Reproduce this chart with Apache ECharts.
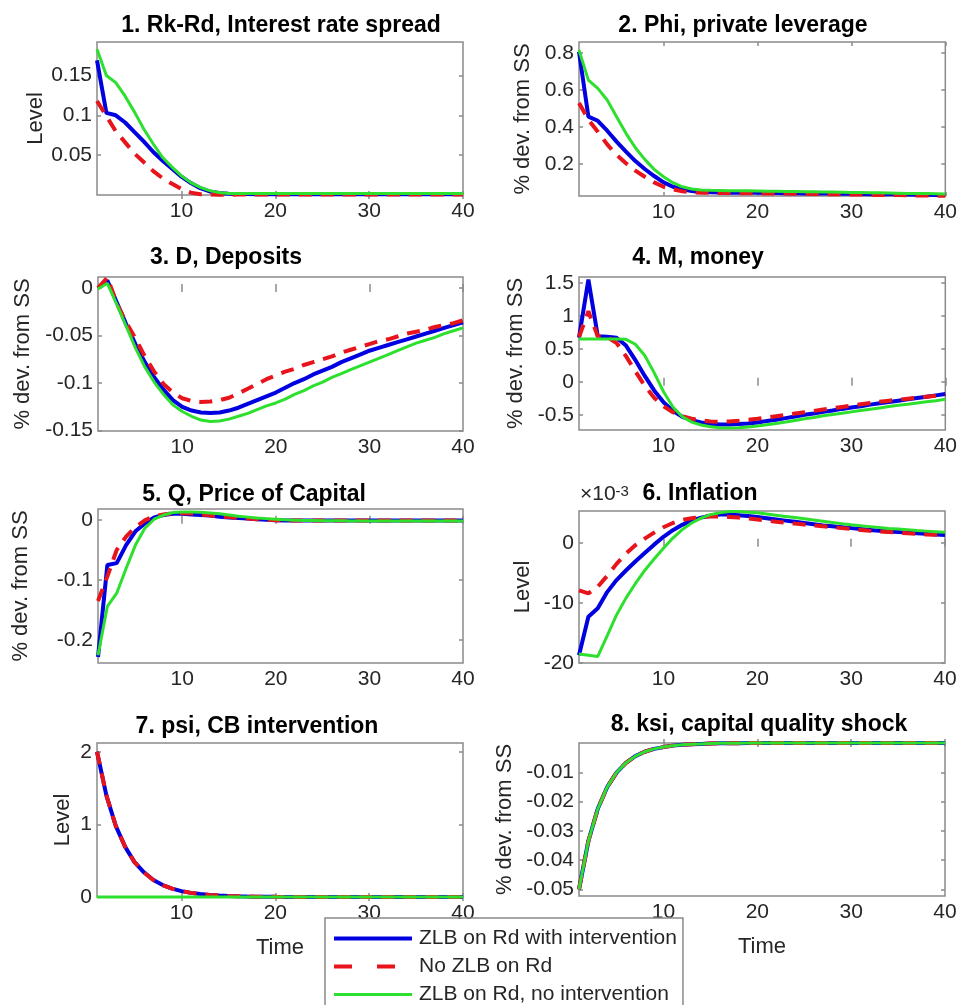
<!DOCTYPE html>
<html><head><meta charset="utf-8">
<script src="https://cdn.jsdelivr.net/npm/echarts@6/dist/echarts.min.js"></script>
<style>html,body{margin:0;padding:0;background:#fff}#c{width:960px;height:1005px}</style>
</head><body><div id="c"></div>
<script>
// ---------------- data ----------------
const time = [1,2,3,4,5,6,7,8,9,10,11,12,13,14,15,16,17,18,19,20,21,22,23,24,25,26,27,28,29,30,31,32,33,34,35,36,37,38,39,40];
const seriesNames = ['ZLB on Rd with intervention', 'No ZLB on Rd', 'ZLB on Rd, no intervention'];
const xTicks = [10, 20, 30, 40];

// 1. Rk-Rd
const spreadBlue = [0.169,0.103,0.100,0.091,0.079,0.067,0.054,0.043,0.033,0.023, 0.015,0.0085,0.0045,0.0025,0.0015,0.0012,0.0011,0.001,0.001,0.001, 0.001,0.001,0.001,0.001,0.001,0.001,0.001,0.001,0.001,0.001, 0.001,0.001,0.001,0.001,0.001,0.001,0.001,0.001,0.001,0.001];
const spreadRed = [0.118,0.099,0.080,0.066,0.052,0.041,0.030,0.021,0.014,0.0075, 0.003,0.001,0.0005,0.0003,0.0003,0.0005,0.0005,0.0005,0.0005,0.0005, 0.0005,0.0005,0.0005,0.0005,0.0005,0.0005,0.0005,0.0005,0.0005,0.0005, 0.0005,0.0005,0.0005,0.0005,0.0005,0.0005,0.0005,0.0005,0.0005,0.0005];
const spreadGreen = [0.183,0.150,0.141,0.124,0.104,0.0825,0.064,0.047,0.035,0.024, 0.0155,0.0095,0.0055,0.003,0.002,0.0018,0.0018,0.0018,0.0018,0.0018, 0.0018,0.0018,0.0018,0.0018,0.0018,0.0018,0.0018,0.0018,0.0018,0.0018, 0.0018,0.0018,0.0018,0.0018,0.0018,0.0018,0.0018,0.0018,0.0018,0.0018];
const spreadTicks = [0.05, 0.1, 0.15];

// 2. Phi
const phiBlue = [0.807,0.456,0.434,0.380,0.321,0.267,0.216,0.173,0.135,0.101, 0.077,0.063,0.054,0.049,0.047,0.046,0.045,0.045,0.044,0.044, 0.043,0.043,0.042,0.042,0.041,0.041,0.040,0.040,0.039,0.039, 0.038,0.037,0.037,0.036,0.036,0.035,0.034,0.034,0.033,0.032];
const phiRed = [0.530,0.440,0.375,0.306,0.249,0.204,0.164,0.131,0.101,0.077, 0.063,0.052,0.047,0.045,0.044,0.043,0.043,0.042,0.042,0.041, 0.041,0.040,0.040,0.039,0.039,0.038,0.037,0.037,0.036,0.035, 0.035,0.034,0.033,0.033,0.032,0.031,0.030,0.030,0.029,0.028];
const phiGreen = [0.816,0.654,0.609,0.546,0.456,0.366,0.288,0.225,0.171,0.131, 0.099,0.077,0.065,0.060,0.058,0.057,0.056,0.055,0.055,0.054, 0.053,0.053,0.052,0.051,0.050,0.050,0.049,0.048,0.047,0.046, 0.046,0.045,0.044,0.043,0.042,0.041,0.040,0.040,0.039,0.038];
const phiTicks = [0.2, 0.4, 0.6, 0.8];

// 3. Deposits
const depBlue = [0.000,0.008,-0.015,-0.038,-0.059,-0.078,-0.094,-0.107,-0.118,-0.125, -0.129,-0.131,-0.1315,-0.131,-0.129,-0.126,-0.122,-0.118,-0.114,-0.110, -0.105,-0.100,-0.096,-0.091,-0.087,-0.083,-0.078,-0.074,-0.070,-0.066, -0.063,-0.060,-0.057,-0.054,-0.051,-0.048,-0.045,-0.042,-0.039,-0.036];
const depRed = [0.000,0.011,-0.016,-0.036,-0.053,-0.072,-0.088,-0.101,-0.110,-0.116, -0.119,-0.120,-0.1195,-0.118,-0.1155,-0.111,-0.106,-0.101,-0.096,-0.092, -0.088,-0.085,-0.081,-0.078,-0.075,-0.072,-0.068,-0.065,-0.062,-0.059, -0.056,-0.054,-0.051,-0.048,-0.046,-0.044,-0.041,-0.039,-0.037,-0.034];
const depGreen = [-0.001,0.005,-0.017,-0.040,-0.063,-0.083,-0.099,-0.112,-0.123,-0.130, -0.135,-0.139,-0.1405,-0.140,-0.138,-0.135,-0.132,-0.128,-0.124,-0.121, -0.117,-0.112,-0.108,-0.103,-0.099,-0.094,-0.090,-0.086,-0.082,-0.078, -0.074,-0.070,-0.066,-0.062,-0.058,-0.055,-0.052,-0.048,-0.045,-0.042];
const depTicks = [-0.15, -0.1, -0.05, 0];

// 4. Money
const moneyBlue = [0.67,1.55,0.69,0.685,0.67,0.55,0.33,0.09,-0.13,-0.31, -0.44,-0.53,-0.58,-0.615,-0.635,-0.645,-0.645,-0.64,-0.63,-0.615, -0.595,-0.575,-0.55,-0.525,-0.50,-0.48,-0.455,-0.435,-0.41,-0.39, -0.37,-0.345,-0.325,-0.305,-0.285,-0.265,-0.245,-0.225,-0.205,-0.185];
const moneyRed = [0.68,1.07,0.69,0.68,0.59,0.39,0.16,-0.06,-0.24,-0.37, -0.46,-0.52,-0.56,-0.585,-0.60,-0.605,-0.60,-0.59,-0.575,-0.56, -0.54,-0.52,-0.50,-0.48,-0.46,-0.44,-0.42,-0.40,-0.38,-0.36, -0.34,-0.32,-0.30,-0.285,-0.27,-0.255,-0.24,-0.225,-0.21,-0.195];
const moneyGreen = [0.65,0.65,0.65,0.65,0.65,0.645,0.57,0.40,0.14,-0.15, -0.38,-0.53,-0.61,-0.655,-0.68,-0.695,-0.70,-0.695,-0.685,-0.67, -0.65,-0.63,-0.61,-0.585,-0.56,-0.54,-0.515,-0.495,-0.475,-0.455, -0.435,-0.415,-0.395,-0.375,-0.355,-0.34,-0.32,-0.30,-0.285,-0.265];
const moneyTicks = [-0.5, 0, 0.5, 1, 1.5];

// 5. Q
const qBlue = [-0.228,-0.075,-0.072,-0.042,-0.019,-0.006,0.004,0.008,0.010,0.010, 0.009,0.008,0.007,0.005,0.004,0.003,0.002,0.001,0.000,-0.0005, -0.001,-0.001,-0.001,-0.001,-0.001,-0.001,-0.001,-0.001,-0.001,-0.001, -0.001,-0.001,-0.001,-0.001,-0.001,-0.001,-0.001,-0.001,-0.001,-0.001];
const qRed = [-0.135,-0.094,-0.050,-0.028,-0.012,-0.001,0.006,0.009,0.011,0.011, 0.0105,0.009,0.007,0.0055,0.0045,0.003,0.002,0.001,0.000,-0.0005, -0.001,-0.001,-0.001,-0.001,-0.001,-0.001,-0.001,-0.001,-0.001,-0.001, -0.001,-0.001,-0.001,-0.001,-0.001,-0.001,-0.001,-0.001,-0.001,-0.001];
const qGreen = [-0.225,-0.144,-0.122,-0.081,-0.042,-0.014,0.001,0.008,0.012,0.013, 0.013,0.0125,0.0115,0.010,0.008,0.006,0.0045,0.003,0.002,0.001, 0.000,-0.0005,-0.001,-0.001,-0.0015,-0.0015,-0.0015,-0.002,-0.002,-0.002, -0.002,-0.002,-0.002,-0.002,-0.002,-0.002,-0.002,-0.002,-0.002,-0.002];
const qTicks = [-0.2, -0.1, 0];

// 6. Inflation (values in units of 10^-3)
const inflBlue = [-18.7,-12.3,-10.9,-8.2,-6.2,-4.6,-3.1,-1.7,-0.3,1.0, 2.1,3.0,3.7,4.2,4.5,4.7,4.7,4.6,4.45,4.3, 4.1,3.9,3.7,3.5,3.3,3.1,2.9,2.75,2.6,2.45, 2.3,2.15,2.0,1.9,1.8,1.7,1.6,1.5,1.4,1.3];
const inflRed = [-7.9,-8.4,-7.3,-5.5,-3.5,-1.8,-0.4,0.7,1.7,2.6, 3.3,3.8,4.1,4.3,4.4,4.4,4.3,4.2,4.05,3.9, 3.7,3.5,3.35,3.2,3.05,2.9,2.75,2.6,2.45,2.3, 2.15,2.0,1.9,1.8,1.7,1.6,1.5,1.4,1.35,1.3];
const inflGreen = [-18.5,-18.7,-18.9,-15.5,-12.0,-9.2,-6.8,-4.6,-2.7,-0.9, 0.8,2.2,3.3,4.1,4.7,5.0,5.2,5.2,5.1,5.0, 4.8,4.6,4.4,4.2,4.0,3.8,3.6,3.4,3.2,3.0, 2.85,2.7,2.55,2.4,2.3,2.2,2.05,1.95,1.85,1.75];
const inflTicks = [-20, -10, 0];

// 7. psi
const psiBlue = [2.0,1.40,0.98,0.69,0.48,0.34,0.235,0.165,0.115,0.081, 0.057,0.040,0.028,0.019,0.014,0.0095,0.0067,0.0047,0.0033,0.0023, 0.0016,0.0011,0.0008,0.0005,0.0004,0.0003,0.0002,0.0001,0.0001,0.0001, 0,0,0,0,0,0,0,0,0,0];
const psiRed = [2.0,1.40,0.98,0.69,0.48,0.34,0.235,0.165,0.115,0.081, 0.057,0.040,0.028,0.019,0.014,0.0095,0.0067,0.0047,0.0033,0.0023, 0.0016,0.0011,0.0008,0.0005,0.0004,0.0003,0.0002,0.0001,0.0001,0.0001, 0,0,0,0,0,0,0,0,0,0];
const psiGreen = [0,0,0,0,0,0,0,0,0,0, 0,0,0,0,0,0,0,0,0,0, 0,0,0,0,0,0,0,0,0,0, 0,0,0,0,0,0,0,0,0,0];
const psiTicks = [0, 1, 2];

// 8. ksi
const ksiBlue = [-0.0500,-0.0335,-0.0225,-0.0151,-0.0101,-0.0068,-0.0045,-0.0030,-0.0020,-0.0014, -0.0009,-0.0006,-0.0004,-0.0003,-0.0002,-0.0001,-0.0001,-0.0001,0,0, 0,0,0,0,0,0,0,0,0,0, 0,0,0,0,0,0,0,0,0,0];
const ksiRed = [-0.0500,-0.0335,-0.0225,-0.0151,-0.0101,-0.0068,-0.0045,-0.0030,-0.0020,-0.0014, -0.0009,-0.0006,-0.0004,-0.0003,-0.0002,-0.0001,-0.0001,-0.0001,0,0, 0,0,0,0,0,0,0,0,0,0, 0,0,0,0,0,0,0,0,0,0];
const ksiGreen = [-0.0500,-0.0335,-0.0225,-0.0151,-0.0101,-0.0068,-0.0045,-0.0030,-0.0020,-0.0014, -0.0009,-0.0006,-0.0004,-0.0003,-0.0002,-0.0001,-0.0001,-0.0001,0,0, 0,0,0,0,0,0,0,0,0,0, 0,0,0,0,0,0,0,0,0,0];
const ksiTicks = [-0.05, -0.04, -0.03, -0.02, -0.01];

// ---------------- layout / style ----------------
const FONT = 'Liberation Sans, Arial, Helvetica, sans-serif';
const COLORS = ['#0000e0', '#e8141c', '#2de02d'];
const BOX = '#8a8a8a';
const TXT = '#262626';

const panels = [
  {title:'1. Rk-Rd, Interest rate spread', tx:281, ty:26, grid:[97,42,366,153], y:[0,0.192], ticks:spreadTicks, yname:'Level', gap:50, data:[spreadBlue,spreadRed,spreadGreen]},
  {title:'2. Phi, private leverage', tx:743, ty:26, grid:[579,42,367,154], y:[0.027,0.86], ticks:phiTicks, yname:'% dev. from SS', gap:45, data:[phiBlue,phiRed,phiGreen]},
  {title:'3. D, Deposits', tx:226, ty:258, grid:[98,277,365,154], y:[-0.1505,0.0116], ticks:depTicks, yname:'% dev. from SS', gap:64, data:[depBlue,depRed,depGreen]},
  {title:'4. M, money', tx:698, ty:258, grid:[579,277,367,153], y:[-0.73,1.59], ticks:moneyTicks, yname:'% dev. from SS', gap:52, data:[moneyBlue,moneyRed,moneyGreen]},
  {title:'5. Q, Price of Capital', tx:254, ty:495, grid:[98,509,365,154], y:[-0.238,0.018], ticks:qTicks, yname:'% dev. from SS', gap:66, data:[qBlue,qRed,qGreen]},
  {title:'6. Inflation', tx:700, ty:494, grid:[579,511,366,152], y:[-20,5.3], ticks:inflTicks, yname:'Level', gap:45, data:[inflBlue,inflRed,inflGreen]},
  {title:'7. psi, CB intervention', tx:257, ty:727, grid:[97,743,366,154], y:[0,2.12], ticks:psiTicks, yname:'Level', gap:23, data:[psiBlue,psiRed,psiGreen], time:true},
  {title:'8. ksi, capital quality shock', tx:759, ty:725, grid:[579,743,366,153], y:[-0.0523,0], ticks:ksiTicks, yname:'% dev. from SS', gap:63, data:[ksiBlue,ksiRed,ksiGreen], time:true}
];

const option = {
  backgroundColor: '#ffffff',
  animation: false,
  textStyle: {fontFamily: FONT},
  title: [], grid: [], xAxis: [], yAxis: [], series: [],
  legend: {
    orient: 'vertical', left: 325, top: 918, height: 140,
    padding: [10, 6, 8, 7],
    itemWidth: 78, itemHeight: 14, itemGap: 7,
    borderColor: BOX, borderWidth: 1.5,
    backgroundColor: 'rgba(255,255,255,0)',
    itemStyle: {opacity: 0},
    textStyle: {fontFamily: FONT, fontSize: 21, color: TXT, padding: [0,0,0,2]},
    data: [
      {name: seriesNames[0], lineStyle: {width: 4}},
      {name: seriesNames[1], lineStyle: {width: 4, type: [18, 25]}},
      {name: seriesNames[2], lineStyle: {width: 3}}
    ]
  }
};

panels.forEach((p, i) => {
  option.title.push({
    text: p.title, left: p.tx, top: p.ty - 12, textAlign: 'center', padding: 0,
    textStyle: {fontFamily: FONT, fontSize: 23, fontWeight: 'bold', color: '#000'}
  });
  option.grid.push({
    left: p.grid[0], top: p.grid[1], width: p.grid[2], height: p.grid[3],
    show: true, borderColor: BOX, borderWidth: 1.5, backgroundColor: 'transparent', containLabel: false
  });
  const xBase = {
    type: 'value', gridIndex: i, min: 1, max: 40,
    splitLine: {show: false}, axisLine: {show: false}
  };
  option.xAxis.push(Object.assign({}, xBase, {
    position: 'bottom',
    name: p.time ? 'Time' : '', nameLocation: 'middle', nameGap: 40,
    nameTextStyle: {fontFamily: FONT, fontSize: 22, color: TXT},
    axisTick: {show: true, inside: true, length: 4, lineStyle: {color: BOX, width: 1.5}, customValues: xTicks},
    axisLabel: {show: true, margin: 6, fontFamily: FONT, fontSize: 21, color: TXT, customValues: xTicks, formatter: v => String(v)}
  }));
  option.xAxis.push(Object.assign({}, xBase, {
    position: 'top',
    axisTick: {show: true, inside: true, length: 4, lineStyle: {color: BOX, width: 1.5}, customValues: xTicks},
    axisLabel: {show: false}
  }));
  const yBase = {
    type: 'value', gridIndex: i, min: p.y[0], max: p.y[1],
    splitLine: {show: false}, axisLine: {show: false}
  };
  option.yAxis.push(Object.assign({}, yBase, {
    position: 'left',
    name: p.yname, nameLocation: 'middle', nameGap: p.gap,
    nameTextStyle: {fontFamily: FONT, fontSize: 22, color: TXT},
    axisTick: {show: true, inside: true, length: 4, lineStyle: {color: BOX, width: 1.5}, customValues: p.ticks},
    axisLabel: {show: true, margin: 5, fontFamily: FONT, fontSize: 21, color: TXT, customValues: p.ticks, formatter: v => String(v)}
  }));
  option.yAxis.push(Object.assign({}, yBase, {
    position: 'right',
    axisTick: {show: true, inside: true, length: 4, lineStyle: {color: BOX, width: 1.5}, customValues: p.ticks},
    axisLabel: {show: false}
  }));
  p.data.forEach((arr, k) => {
    option.series.push({
      type: 'line', name: seriesNames[k],
      xAxisIndex: 2 * i, yAxisIndex: 2 * i,
      data: time.map((t, j) => [t, arr[j]]),
      symbol: 'none', showSymbol: false, clip: false, smooth: false,
      z: 2 + k,
      lineStyle: {color: COLORS[k], width: k === 2 ? 3 : 4, type: k === 1 ? [13, 9] : 'solid'},
      itemStyle: {color: COLORS[k]}
    });
  });
});

// exponent label for panel 6
option.title.push({
  text: '×10{sup|-3}', left: 580, top: 484, padding: 0,
  textStyle: {fontFamily: FONT, fontSize: 21, fontWeight: 'normal', color: TXT,
    rich: {sup: {fontFamily: FONT, fontSize: 15, fontWeight: 'normal', color: TXT, verticalAlign: 'top', lineHeight: 15, padding: [0,0,8,0]}}}
});

const chart = echarts.init(document.getElementById('c'), null, {renderer: 'canvas'});
chart.setOption(option);
</script>
</body></html>
